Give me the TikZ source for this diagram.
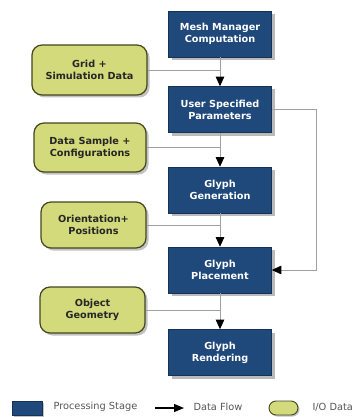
\documentclass[tikz,border=0pt]{standalone}
\usepackage{fontspec}
\setmainfont{DejaVu Sans}
\usetikzlibrary{arrows.meta,shadows,calc}
\definecolor{procblue}{HTML}{1F487B}
\definecolor{iogreen}{HTML}{D3DA7B}
\definecolor{ioborder}{HTML}{44461E}
\definecolor{linegray}{HTML}{A0A0A0}
\definecolor{legtext}{HTML}{555555}
\tikzset{
  proc/.style={draw=procblue!70!black, line width=0.6pt, fill=procblue, text=white,
    minimum width=103pt, minimum height=46pt, align=center,
    font=\fontsize{9.7}{12}\selectfont\bfseries,
    drop shadow={shadow xshift=3pt, shadow yshift=-3pt, opacity=0.45, fill=black!60}},
  iodata/.style={draw=ioborder, line width=1.2pt, fill=iogreen, rounded corners=10pt,
    align=center, font=\fontsize{9.7}{12}\selectfont\bfseries, text=black!85,
    drop shadow={shadow xshift=2.5pt, shadow yshift=-2.5pt, opacity=0.4, fill=black!60}},
  flow/.style={draw=linegray, line width=0.8pt},
  flowarr/.style={flow, -{Triangle[length=9.5pt,width=8.5pt,color=black]}},
  legtxt/.style={anchor=west, text=legtext, font=\fontsize{9.8}{11}\selectfont}
}
\begin{document}
\begin{tikzpicture}[x=1pt,y=-1pt]
\useasboundingbox (0,0) rectangle (353,417);
% processing stages
\node[proc] (b1) at (220,34) {Mesh Manager\\Computation};
\node[proc] (b2) at (220,109.5) {User Specified\\Parameters};
\node[proc] (b3) at (220,190) {Glyph\\Generation};
\node[proc] (b4) at (220,270) {Glyph\\Placement};
\node[proc] (b5) at (220,352.5) {Glyph\\Rendering};
% io data
\node[iodata, minimum width=115pt, minimum height=50pt] (g1) at (89.5,70) {Grid +\\Simulation Data};
\node[iodata, minimum width=112pt, minimum height=49pt] (g2) at (90,147.5) {Data Sample +\\Configurations};
\node[iodata, minimum width=105pt, minimum height=46pt] (g3) at (93.5,225) {Orientation+\\Positions};
\node[iodata, minimum width=105pt, minimum height=46pt] (g4) at (92.5,310) {Object\\Geometry};
% flows
\draw[flowarr] (b1) -- (b2);
\draw[flowarr] (b2) -- (b3);
\draw[flowarr] (b3) -- (b4);
\draw[flowarr] (b4) -- (b5);
\draw[flow] (g1.east) -- (g1.east -| b1.south);
\draw[flow] (g2.east) -- (g2.east -| b2.south);
\draw[flow] (g3.east) -- (g3.east -| b3.south);
\draw[flow] (g4.east) -- (g4.east -| b4.south);
\coordinate (loop) at (316,109);
\draw[flowarr] (b2.east) -- (b2.east -| loop) |- (b4.east);
% legend
\node[draw=procblue!70!black, fill=procblue, minimum width=30pt, minimum height=14pt, inner sep=0pt,
  drop shadow={shadow xshift=1.5pt, shadow yshift=-1.5pt, opacity=0.4, fill=black!60}] (lp) at (27,408) {};
\node[legtxt] (lpt) at (50,407) {Processing Stage};
\coordinate (la1) at (155,408);
\coordinate (la2) at (184,408);
\draw[line width=1.2pt, -{Triangle[length=10pt,width=8pt]}] (la1) -- (la2);
\node[legtxt] (lat) at (190,407) {Data Flow};
\node[draw=ioborder, line width=0.9pt, fill=iogreen, minimum width=29pt, minimum height=14pt, inner sep=0pt,
  rounded corners=7pt,
  drop shadow={shadow xshift=1.5pt, shadow yshift=-1.5pt, opacity=0.4, fill=black!60}] (li) at (283.5,408) {};
\node[legtxt] (lit) at (309,407) {I/O Data};
\end{tikzpicture}
\end{document}
